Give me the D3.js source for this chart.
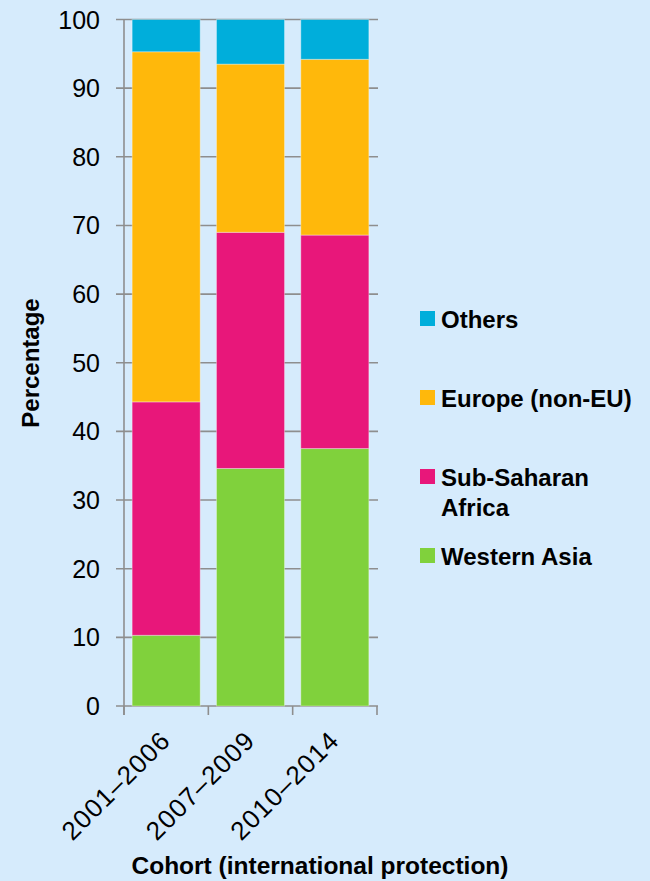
<!DOCTYPE html>
<html>
<head>
<meta charset="utf-8">
<script src="https://cdnjs.cloudflare.com/ajax/libs/d3/7.8.5/d3.min.js"></script>
<style>
  body { margin: 0; background: #d6ebfc; }
  svg { display: block; font-family: "Liberation Sans", Arial, sans-serif; }
</style>
</head>
<body>
<svg width="650" height="881"></svg>
<script>
var cohorts = ["2001\u20132006", "2007\u20132009", "2010\u20132014"];
var regions = ["Western Asia", "Sub-Saharan Africa", "Europe (non-EU)", "Others"];
var westernAsia = [10.3, 34.6, 37.5];
var subSaharan = [34.0, 34.4, 31.1];
var europe = [51.0, 24.5, 25.6];
var others = [4.7, 6.5, 5.8];
var yTicks = [0, 10, 20, 30, 40, 50, 60, 70, 80, 90, 100];

var colors = ["#80d13c", "#e8177a", "#ffb80b", "#00aedb"];

var svg = d3.select("svg");

var rows = cohorts.map(function(c, i) {
  return { cohort: c, "Western Asia": westernAsia[i], "Sub-Saharan Africa": subSaharan[i],
           "Europe (non-EU)": europe[i], "Others": others[i] };
});

var stack = d3.stack().keys(regions)(rows);

var x = d3.scaleBand()
    .domain(cohorts)
    .range([124, 377])
    .paddingInner(0.193)
    .paddingOuter(0.0965);

var y = d3.scaleLinear()
    .domain([0, 100])
    .range([706, 19.5]);

var color = d3.scaleOrdinal().domain(regions).range(colors);

// grid
svg.append("g")
  .selectAll("line")
  .data(yTicks)
  .enter().append("line")
    .attr("x1", 116)
    .attr("x2", 378)
    .attr("y1", function(d) { return y(d); })
    .attr("y2", function(d) { return y(d); })
    .attr("stroke", "#8e8e8e")
    .attr("stroke-width", 1.6);

// bars
svg.append("g")
  .selectAll("g")
  .data(stack)
  .enter().append("g")
    .attr("fill", function(d) { return color(d.key); })
  .selectAll("rect")
  .data(function(d) { return d; })
  .enter().append("rect")
    .attr("x", function(d) { return x(d.data.cohort); })
    .attr("y", function(d) { return y(d[1]); })
    .attr("height", function(d) { return y(d[0]) - y(d[1]); })
    .attr("width", x.bandwidth())
    .attr("stroke", "#ffffff")
    .attr("stroke-opacity", 0.35)
    .attr("stroke-width", 1);

// y axis line
svg.append("line")
  .attr("x1", 124).attr("x2", 124)
  .attr("y1", y(100)).attr("y2", 715)
  .attr("stroke", "#8e8e8e")
  .attr("stroke-width", 1.6);

// x axis ticks at band boundaries
var bounds = cohorts.map(function(c) { return x(c) - x.step() * x.paddingInner() / 2; });
bounds.push(x.range()[1]);
svg.append("g")
  .selectAll("line")
  .data(bounds)
  .enter().append("line")
    .attr("x1", function(d) { return d; })
    .attr("x2", function(d) { return d; })
    .attr("y1", 706)
    .attr("y2", 715)
    .attr("stroke", "#8e8e8e")
    .attr("stroke-width", 1.6);

// y tick labels
svg.append("g")
  .selectAll("text")
  .data(yTicks)
  .enter().append("text")
    .attr("x", 100)
    .attr("y", function(d) { return y(d); })
    .attr("dy", "0.36em")
    .attr("text-anchor", "end")
    .attr("font-size", 25)
    .attr("fill", "#000")
    .text(function(d) { return d; });

// x tick labels
svg.append("g")
  .selectAll("text")
  .data(cohorts)
  .enter().append("text")
    .attr("transform", function(d) {
      return "translate(" + (x(d) + x.bandwidth() / 2 + 6) + ",742) rotate(-45)";
    })
    .attr("text-anchor", "end")
    .attr("font-size", 26)
    .attr("letter-spacing", 1.2)
    .attr("fill", "#000")
    .text(function(d) { return d; });

// axis titles
svg.append("text")
  .attr("transform", "translate(39,363) rotate(-90)")
  .attr("text-anchor", "middle")
  .attr("font-size", 24)
  .attr("font-weight", "bold")
  .text("Percentage");

svg.append("text")
  .attr("x", 320)
  .attr("y", 874)
  .attr("text-anchor", "middle")
  .attr("font-size", 24.5)
  .attr("font-weight", "bold")
  .text("Cohort (international protection)");

// legend
var legendItems = [
  { key: "Others", lines: ["Others"], y: 319 },
  { key: "Europe (non-EU)", lines: ["Europe (non-EU)"], y: 398 },
  { key: "Sub-Saharan Africa", lines: ["Sub-Saharan", "Africa"], y: 477 },
  { key: "Western Asia", lines: ["Western Asia"], y: 556 }
];

var legend = svg.append("g")
  .selectAll("g")
  .data(legendItems)
  .enter().append("g")
    .attr("transform", function(d) { return "translate(420," + d.y + ")"; });

legend.append("rect")
  .attr("x", 0)
  .attr("y", -8)
  .attr("width", 15)
  .attr("height", 15)
  .attr("fill", function(d) { return color(d.key); });

legend.append("text")
  .attr("x", 21)
  .attr("font-size", 24)
  .attr("font-weight", "bold")
  .selectAll("tspan")
  .data(function(d) { return d.lines; })
  .enter().append("tspan")
    .attr("x", 21)
    .attr("y", function(d, i) { return i * 30; })
    .attr("dy", "0.36em")
    .text(function(d) { return d; });
</script>
</body>
</html>
